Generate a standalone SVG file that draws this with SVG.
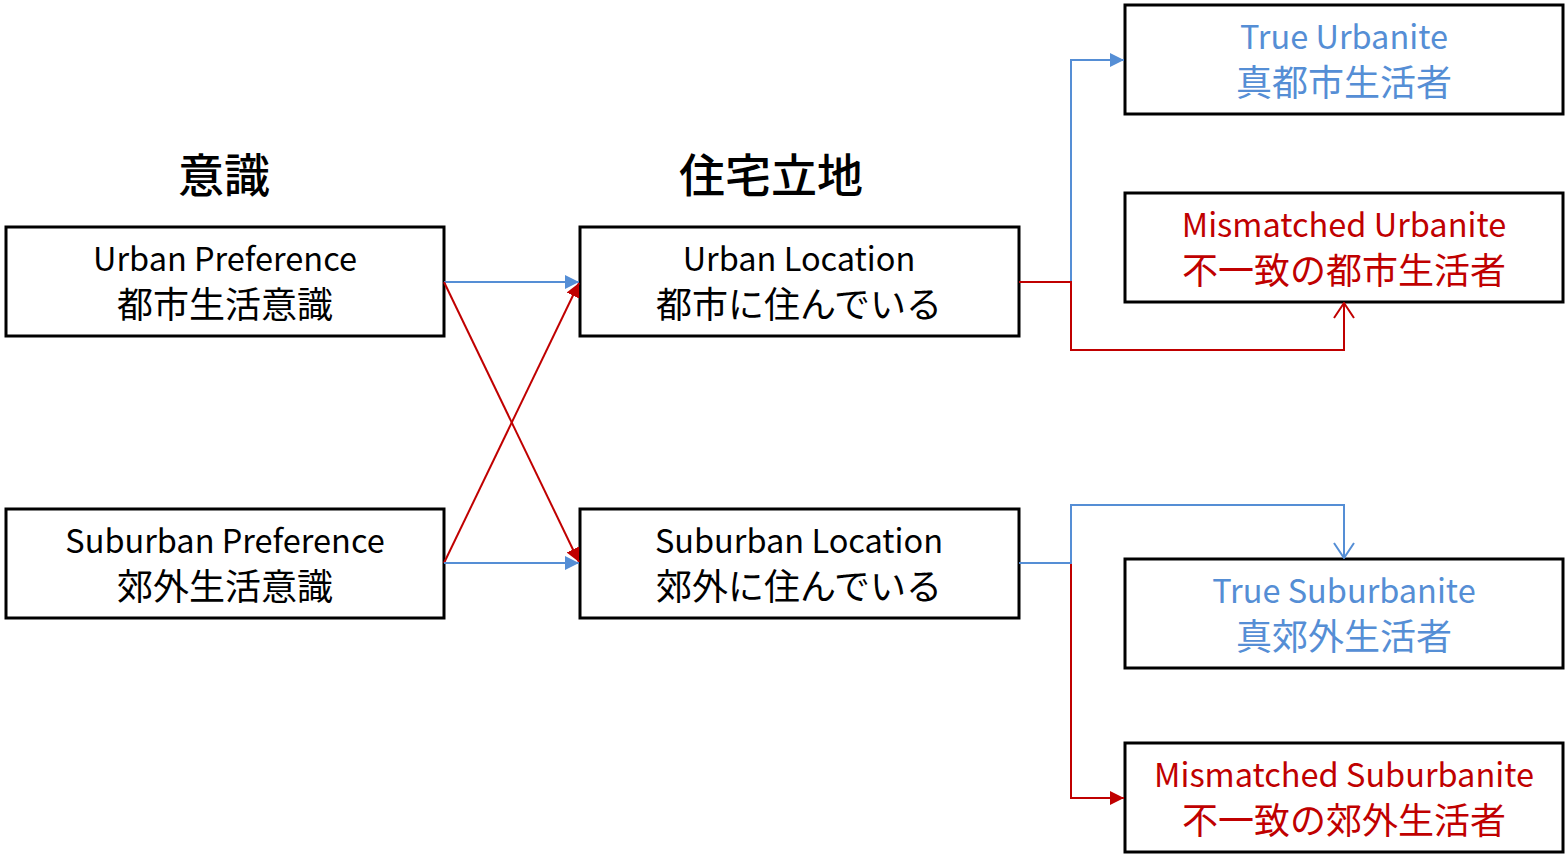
<svg xmlns="http://www.w3.org/2000/svg" width="1565" height="858" viewBox="0 0 1565 858">
<style>
.box{fill:#fff;stroke:#000;stroke-width:3}
.t{font-family:"Noto Sans CJK JP","Noto Sans",sans-serif;font-size:32.5px;text-anchor:middle}
.j{font-family:"Noto Sans CJK JP",sans-serif;font-size:36px;text-anchor:middle}
.h{font-family:"Noto Sans CJK JP",sans-serif;font-size:46px;font-weight:500;text-anchor:middle}
.k{fill:#000}
.b{fill:#558ED5}
.r{fill:#C00000}
.lb{fill:none;stroke:#558ED5;stroke-width:2}
.lr{fill:none;stroke:#C00000;stroke-width:2}
</style>
<defs>
<marker id="ab" viewBox="0 0 14 14" refX="14" refY="7" markerWidth="14" markerHeight="14" markerUnits="userSpaceOnUse" orient="auto"><path d="M0,0L14,7L0,14z" fill="#558ED5"/></marker>
<marker id="ar" viewBox="0 0 14 14" refX="14" refY="7" markerWidth="14" markerHeight="14" markerUnits="userSpaceOnUse" orient="auto"><path d="M0,0L14,7L0,14z" fill="#C00000"/></marker>
<marker id="ob" viewBox="-1 -1 17 22" refX="15" refY="10" markerWidth="17" markerHeight="22" markerUnits="userSpaceOnUse" orient="auto"><path d="M0,0L15,10L0,20" fill="none" stroke="#558ED5" stroke-width="2"/></marker>
<marker id="or" viewBox="-1 -1 17 22" refX="15" refY="10" markerWidth="17" markerHeight="22" markerUnits="userSpaceOnUse" orient="auto"><path d="M0,0L15,10L0,20" fill="none" stroke="#C00000" stroke-width="2"/></marker>
</defs>
<text class="h k" x="224" y="192">意識</text>
<text class="h k" x="771" y="192">住宅立地</text>
<g id="urban-pref"><rect class="box" x="6" y="227" width="438" height="109"/><text class="t k" x="225" y="271">Urban Preference</text><text class="j k" x="225" y="318">都市生活意識</text></g>
<g id="suburban-pref"><rect class="box" x="6" y="509" width="438" height="109"/><text class="t k" x="225" y="553">Suburban Preference</text><text class="j k" x="225" y="600">郊外生活意識</text></g>
<g id="urban-loc"><rect class="box" x="580" y="227" width="439" height="109"/><text class="t k" x="799" y="271">Urban Location</text><text class="j k" x="799" y="318">都市に住んでいる</text></g>
<g id="suburban-loc"><rect class="box" x="580" y="509" width="439" height="109"/><text class="t k" x="799" y="553">Suburban Location</text><text class="j k" x="799" y="600">郊外に住んでいる</text></g>
<g id="true-urbanite"><rect class="box" x="1125" y="5" width="438" height="109"/><text class="t b" x="1344" y="49">True Urbanite</text><text class="j b" x="1344" y="96">真都市生活者</text></g>
<g id="mismatched-urbanite"><rect class="box" x="1125" y="193" width="438" height="109"/><text class="t r" x="1344" y="237">Mismatched Urbanite</text><text class="j r" x="1344" y="284">不一致の都市生活者</text></g>
<g id="true-suburbanite"><rect class="box" x="1125" y="559" width="438" height="109"/><text class="t b" x="1344" y="603">True Suburbanite</text><text class="j b" x="1344" y="650">真郊外生活者</text></g>
<g id="mismatched-suburbanite"><rect class="box" x="1125" y="743" width="438" height="109"/><text class="t r" x="1344" y="787">Mismatched Suburbanite</text><text class="j r" x="1344" y="834">不一致の郊外生活者</text></g>
<g id="connectors">
<path class="lb" d="M444,282H579" marker-end="url(#ab)"/>
<path class="lr" d="M444,282L579,562" marker-end="url(#ar)"/>
<path class="lr" d="M444,563L579,283" marker-end="url(#ar)"/>
<path class="lb" d="M444,563H579" marker-end="url(#ab)"/>
<path class="lb" d="M1071,282V60H1124" marker-end="url(#ab)"/>
<path class="lr" d="M1019,282H1071V350H1344V303" marker-end="url(#or)"/>
<path class="lr" d="M1071,563V798H1124" marker-end="url(#ar)"/>
<path class="lb" d="M1019,563H1071V505H1344V558" marker-end="url(#ob)"/>
</g>
</svg>
